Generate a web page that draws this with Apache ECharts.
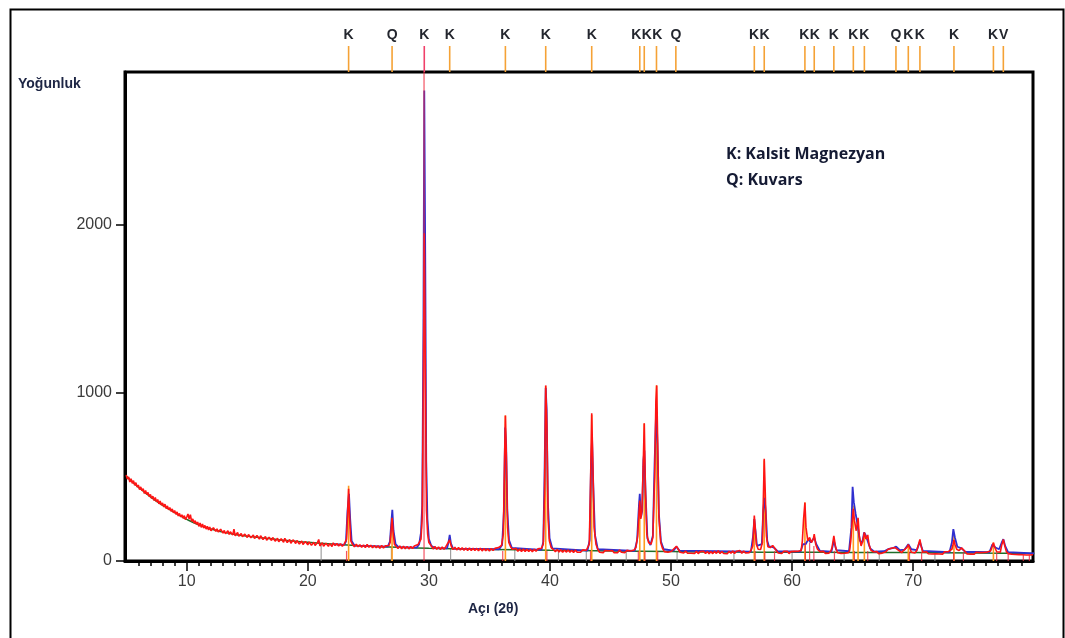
<!DOCTYPE html>
<html>
<head>
<meta charset="utf-8">
<script src="https://cdn.jsdelivr.net/npm/echarts@6/dist/echarts.min.js"></script>
<style>
html,body{margin:0;padding:0;background:#fff;}
#chart{width:1065px;height:638px;}
</style>
</head>
<body>
<div id="chart"></div>
<script>
// Axis ranges (2θ in degrees, intensity in counts)
const X_MIN = 4.9, X_MAX = 79.9, Y_MAX = 2910;
const xTickLabels = [10, 20, 30, 40, 50, 60, 70];
const yTickLabels = [0, 1000, 2000];

// Fitted background
const background = [[5,505],[6,440],[7,382],[8,332],[9,288],[10,248],[11,215],[12,190],[13,172],[14,158],[15,148],[16,140],[17,132],[18,124],[19,117],[20,111],[22,101],[24,92],[26,85],[28,80],[30,76],[32,73],[35,69],[40,64],[45,60],[50,56],[55,53],[60,52],[65,51],[70,50],[75,48],[80,45]];

// Measured scan
const measured = [
[5.0,512],[5.1,488],[5.2,500],[5.3,470],[5.4,490],[5.5,462],[5.6,478],[5.7,450],[5.8,466],[5.9,440],[6.0,452],[6.1,425],[6.2,441],[6.3,418],[6.4,430],[6.5,402],[6.6,420],[6.7,395],[6.8,408],[6.9,383],[7.0,396],[7.1,372],[7.2,386],[7.3,360],[7.4,378],[7.5,352],[7.6,366],[7.7,340],[7.8,357],[7.9,333],[8.0,345],[8.1,322],[8.2,338],[8.3,312],[8.4,328],[8.5,305],[8.6,318],[8.7,296],[8.8,310],[8.9,287],[9.0,300],[9.1,278],[9.2,292],[9.3,268],[9.4,283],[9.5,262],[9.6,275],[9.7,254],[9.8,270],[9.9,246],[10.0,262],[10.1,280],[10.2,250],[10.3,276],[10.4,236],[10.5,250],[10.6,226],[10.7,240],[10.8,218],[10.9,232],[11.0,206],[11.1,226],[11.2,200],[11.3,220],[11.4,196],[11.5,212],[11.6,190],[11.7,206],[11.8,185],[11.9,202],[12.0,180],[12.2,198],[12.4,176],[12.5,192],[12.6,172],[12.8,189],[13.0,166],[13.1,182],[13.2,162],[13.4,180],[13.5,158],[13.6,174],[13.8,155],[13.9,190],[14.0,150],[14.2,170],[14.3,148],[14.5,164],[14.6,145],[14.8,160],[15.0,140],[15.1,158],[15.3,138],[15.5,155],[15.6,134],[15.8,152],[16.0,130],[16.1,150],[16.3,128],[16.5,146],[16.6,124],[16.8,142],[17.0,122],[17.1,140],[17.3,118],[17.5,136],[17.6,115],[17.8,132],[18.0,112],[18.1,135],[18.3,110],[18.5,128],[18.6,106],[18.8,126],[19.0,104],[19.1,122],[19.3,101],[19.5,119],[19.6,98],[19.8,116],[20.0,96],[20.1,114],[20.3,94],[20.5,112],[20.6,92],[20.8,110],[20.9,128],[21.0,90],[21.2,108],[21.3,88],[21.5,106],[21.7,87],[21.8,104],[22.0,86],
[22.1,108],[22.25,92],[22.4,104],[22.55,89],[22.7,103],[22.85,88],[23.0,100],[23.2,130],[23.3,300],[23.37,430],[23.45,260],[23.55,120],[23.7,98],
[23.85,84],[24.0,100],[24.15,85],[24.3,97],[24.45,82],[24.6,96],[24.75,80],[24.9,98],[25.05,82],[25.2,94],[25.35,78],[25.5,93],[25.65,79],[25.8,91],[25.95,76],[26.1,92],[26.25,77],[26.4,90],[26.55,80],[26.7,92],
[26.8,110],[26.9,200],[26.96,257],[27.05,170],[27.15,100],[27.3,86],
[27.45,74],[27.6,90],[27.75,72],[27.9,88],[28.05,73],[28.2,87],[28.35,72],[28.5,86],[28.65,74],[28.8,90],[28.95,80],[29.1,98],[29.25,95],[29.35,130],
[29.45,260],[29.55,1100],[29.62,1950],[29.7,1200],[29.8,300],[29.9,160],[30.0,110],[30.2,90],
[30.35,72],[30.5,86],[30.65,70],[30.8,84],[30.95,68],[31.1,83],[31.25,70],[31.4,85],[31.55,88],[31.72,125],[31.85,88],
[32.0,68],[32.15,82],[32.3,66],[32.45,80],[32.6,65],[32.75,79],[32.9,64],[33.05,78],[33.2,63],[33.35,77],[33.5,62],[33.65,76],[33.8,63],[33.95,75],[34.1,61],[34.25,76],[34.4,60],[34.55,74],[34.7,61],[34.85,73],[35.0,60],[35.15,74],[35.3,62],[35.45,75],[35.6,64],[35.75,80],[35.9,78],[36.0,92],
[36.15,160],[36.25,600],[36.32,866],[36.4,620],[36.5,200],[36.6,110],[36.75,85],[36.9,70],
[37.05,60],[37.2,74],[37.35,58],[37.5,72],[37.65,57],[37.8,71],[37.95,56],[38.1,70],[38.25,57],[38.4,69],[38.55,55],[38.7,70],[38.85,58],[39.0,72],[39.15,62],[39.3,76],[39.45,100],
[39.55,400],[39.65,1045],[39.75,800],[39.85,250],[39.95,120],[40.1,80],[40.3,68],
[40.45,55],[40.6,68],[40.75,54],[40.9,67],[41.05,52],[41.2,66],[41.35,53],[41.5,65],[41.65,52],[41.8,64],[41.95,51],[42.1,65],[42.25,52],[42.4,63],[42.55,53],[42.7,66],[42.85,55],[43.0,64],[43.1,70],[43.25,100],
[43.35,450],[43.45,879],[43.55,560],[43.65,200],[43.8,100],[43.95,70],
[44.1,52],[44.25,63],[44.4,50],[44.55,62],[44.7,51],[44.85,61],[45.0,50],[45.15,62],[45.3,49],[45.45,60],[45.6,50],[45.75,66],[45.9,52],[46.05,62],[46.2,50],[46.35,63],[46.5,52],[46.65,60],[46.8,56],[46.95,66],[47.1,80],[47.25,150],
[47.35,280],[47.42,360],[47.5,250],[47.6,300],[47.7,560],[47.79,820],[47.88,450],[48.0,160],[48.15,110],[48.35,100],[48.5,140],[48.65,500],[48.75,950],[48.82,1045],[48.9,700],[49.0,260],[49.15,110],[49.3,75],
[49.45,56],[49.6,64],[49.75,52],[49.9,62],[50.05,58],[50.2,70],[50.35,78],[50.45,88],[50.6,70],[50.75,52],[50.9,60],
[51.05,48],[51.2,60],[51.35,47],[51.5,58],[51.65,46],[51.8,57],[51.95,45],[52.1,58],[52.25,44],[52.4,56],[52.55,45],[52.7,58],[52.85,44],[53.0,57],[53.15,43],[53.3,56],[53.45,44],[53.6,58],[53.75,45],[53.9,62],[54.05,44],[54.2,57],[54.35,45],[54.5,56],[54.65,43],[54.8,58],[54.95,46],[55.1,60],[55.25,45],[55.4,58],[55.55,47],[55.7,62],[55.85,46],[56.0,60],[56.15,48],[56.3,58],[56.45,50],[56.6,62],[56.75,90],
[56.82,180],[56.88,270],[56.95,200],[57.05,100],[57.2,70],[57.4,68],[57.55,110],
[57.62,350],[57.7,609],[57.78,420],[57.88,150],[58.0,85],[58.2,80],
[58.4,92],[58.55,88],[58.7,62],[58.85,48],[59.0,58],[59.15,45],[59.3,57],[59.45,46],[59.6,58],[59.75,44],[59.9,56],[60.05,45],[60.2,57],[60.35,46],[60.5,58],[60.65,50],[60.75,62],[60.85,120],
[60.95,250],[61.06,348],[61.15,200],[61.3,120],[61.45,140],[61.6,110],[61.75,130],[61.83,160],[61.95,100],[62.1,70],[62.3,56],
[62.45,46],[62.6,57],[62.75,45],[62.9,56],[63.05,47],[63.2,60],[63.3,80],[63.45,150],[63.6,80],[63.75,50],
[63.9,57],[64.05,45],[64.2,56],[64.35,46],[64.5,57],[64.65,50],[64.75,62],[64.85,120],
[64.95,220],[65.06,310],[65.15,240],[65.3,180],[65.45,257],[65.55,150],[65.7,90],[65.85,120],[65.97,170],[66.1,130],[66.25,155],[66.35,100],[66.5,65],[66.7,55],
[66.85,46],[67.0,56],[67.15,44],[67.3,55],[67.45,47],[67.6,58],[67.75,55],[67.9,68],[68.05,62],[68.2,76],[68.35,66],[68.5,80],[68.6,84],[68.75,66],[68.9,58],[69.05,50],[69.2,62],[69.35,60],[69.5,82],[69.6,98],[69.7,80],[69.85,52],[70.0,58],[70.15,48],[70.3,62],[70.45,100],[70.56,128],[70.65,90],[70.8,52],
[70.95,44],[71.1,55],[71.25,43],[71.4,54],[71.55,42],[71.7,53],[71.85,43],[72.0,54],[72.15,42],[72.3,53],[72.45,41],[72.6,55],[72.75,44],[72.9,56],[73.05,50],[73.2,70],
[73.3,100],[73.37,125],[73.45,100],[73.6,70],[73.8,62],[74.0,78],[74.15,70],[74.3,55],
[74.45,42],[74.6,52],[74.75,41],[74.9,51],[75.05,40],[75.2,52],[75.35,41],[75.5,50],[75.65,40],[75.8,51],[75.95,42],[76.1,53],[76.25,48],[76.4,60],[76.5,80],[76.63,108],[76.75,80],[76.9,55],[77.05,60],[77.2,52],[77.3,90],[77.45,128],[77.55,95],[77.7,56],[77.85,44],
[78.0,52],[78.15,40],[78.3,50],[78.45,39],[78.6,49],[78.75,38],[78.9,48],[79.05,37],[79.2,47],[79.35,36],[79.5,46],[79.65,36],[79.8,45],[79.9,38]
];

// Calculated profile
const profile = [
[22,101],[23.0,96],[23.15,115],[23.28,300],[23.4,400],[23.5,250],[23.62,120],[23.85,92],
[26.6,85],[26.78,115],[26.9,230],[26.98,304],[27.08,180],[27.25,100],[27.5,82],
[29.0,80],[29.2,100],[29.35,170],[29.45,330],[29.55,1400],[29.62,2800],[29.7,1800],[29.78,600],[29.88,250],[30.0,130],[30.2,90],[30.5,77],
[31.5,75],[31.62,110],[31.72,155],[31.82,105],[32.0,74],
[35.8,70],[36.05,95],[36.2,300],[36.3,794],[36.38,700],[36.48,300],[36.62,125],[36.85,78],
[39.3,66],[39.45,115],[39.55,500],[39.65,1030],[39.73,900],[39.83,350],[39.97,135],[40.2,75],
[43.1,62],[43.28,125],[43.4,600],[43.48,728],[43.58,450],[43.72,155],[43.95,70],
[47.0,60],[47.2,125],[47.35,330],[47.42,400],[47.52,260],[47.62,300],[47.72,600],[47.8,657],[47.9,400],[48.05,135],[48.3,95],[48.5,150],[48.65,600],[48.78,913],[48.88,700],[49.0,280],[49.17,115],[49.4,70],
[50.2,62],[50.45,85],[50.7,62],
[56.6,56],[56.78,150],[56.88,250],[56.98,180],[57.1,90],[57.5,100],[57.62,300],[57.72,376],[57.82,300],[57.95,120],[58.1,85],[58.3,85],[58.5,80],[58.8,58],
[60.7,56],[60.9,100],[61.02,110],[61.12,100],[61.35,130],[61.55,110],[61.83,140],[62.0,100],[62.3,60],
[63.25,56],[63.45,120],[63.65,65],
[64.7,58],[64.9,200],[65.0,442],[65.1,350],[65.25,280],[65.4,220],[65.6,120],[65.8,110],[65.95,170],[66.1,150],[66.25,140],[66.45,75],[66.8,55],
[67.6,58],[68.0,72],[68.4,78],[68.6,86],[68.9,65],[69.3,68],[69.6,100],[69.85,70],[70.3,65],[70.56,115],[70.8,60],
[73.0,52],[73.2,110],[73.32,190],[73.45,140],[73.65,85],[74.0,75],[74.3,55],
[76.3,52],[76.55,100],[76.65,110],[76.8,80],[77.1,70],[77.35,115],[77.45,130],[77.6,90],[77.85,52],[80,45]
];

// Peak positions with intensities (second pattern)
const peakSticks = [[23.37,448],[26.96,240],[36.32,866],[39.65,1040],[43.45,870],[47.42,330],[47.79,818],[48.80,1045],[56.88,250],[57.70,600],[61.06,348],[65.06,330],[65.45,250],[65.97,160],[69.60,95],[73.37,150],[76.63,110]];

// Reference reflections (calcite card)
const refSticks = [[23.2,60],[29.6,3000],[36.1,60],[39.75,60],[43.35,60],[47.3,60],[47.85,60],[48.9,60],[56.95,60],[57.75,60],[58.55,60],[61.1,110],[61.45,110],[61.8,90],[63.5,60],[65.15,60],[66.25,60],[69.7,55],[70.7,55],[73.35,55],[74.15,50],[76.9,50],[77.85,50],[79.1,40],[79.6,40]];

// Other reference lines
const minorSticks = [[21.1,100],[26.9,85],[31.8,75],[37.1,68],[40.7,62],[43.0,60],[46.3,57],[50.5,56],[55.2,52],[60.0,52],[64.3,51],[67.2,50],[71.8,49]];

// Phase identification marks shown above the plot
const phaseMarks = [[23.37,'K'],[26.96,'Q'],[29.62,'K'],[31.72,'K'],[36.32,'K'],[39.65,'K'],[43.45,'K'],[47.42,'K'],[47.79,'K'],[48.80,'K'],[50.40,'Q'],[56.88,'K'],[57.70,'K'],[61.06,'K'],[61.83,'K'],[63.45,'K'],[65.06,'K'],[65.97,'K'],[68.58,'Q'],[69.60,'K'],[70.56,'K'],[73.37,'K'],[76.63,'K'],[77.45,'V']];

const minorTicks = [];
for (let v = 6; v <= 79; v++) minorTicks.push(v);

const TEXT_FONT = '"Liberation Sans", Arial, sans-serif';

function spreadLabels(xs, gap) {
  const out = xs.slice();
  for (let it = 0; it < 30; it++) {
    for (let k = 1; k < out.length; k++) {
      const d = out[k] - out[k - 1];
      if (d < gap) { const s = (gap - d) / 2; out[k - 1] -= s; out[k] += s; }
    }
  }
  return out;
}

function stickRenderer(color, width) {
  return function (params, api) {
    const x = api.value(0), h = api.value(1);
    const p0 = api.coord([x, 0]);
    const p1 = api.coord([x, h]);
    return {
      type: 'line',
      shape: { x1: p0[0], y1: p0[1], x2: p1[0], y2: p1[1] },
      style: { stroke: color, lineWidth: width }
    };
  };
}

function markRenderer(params, api) {
  const i = params.dataIndex;
  const xs = phaseMarks.map(m => api.coord([m[0], 0])[0]);
  const lx = spreadLabels(xs, 10.5);
  const x = api.value(0);
  const p0 = api.coord([x, 0]);
  const p1 = api.coord([x, 1]);
  const strong = refSticks.some(s => s[1] >= Y_MAX && Math.abs(s[0] - x) < 0.1);
  return {
    type: 'group',
    children: [
      { type: 'line', shape: { x1: p0[0], y1: p0[1], x2: p1[0], y2: p1[1] },
        style: { stroke: strong ? '#f0406a' : '#f5a236', lineWidth: 1.6 } },
      { type: 'text', x: lx[i], y: p1[1] - 4,
        style: { text: phaseMarks[i][1], font: 'bold 14px ' + TEXT_FONT, fill: '#23262e',
                 align: 'center', verticalAlign: 'bottom' } }
    ]
  };
}

const chart = echarts.init(document.getElementById('chart'), null, { renderer: 'canvas' });

const option = {
  animation: false,
  backgroundColor: '#ffffff',
  grid: [
    { left: 125, right: 32, top: 72, bottom: 77, show: true, borderColor: '#000', borderWidth: 3, backgroundColor: 'transparent' },
    { left: 125, right: 32, top: 46, height: 26 }
  ],
  xAxis: [
    { type: 'value', gridIndex: 0, min: X_MIN, max: X_MAX, position: 'bottom',
      axisLine: { show: true, onZero: false, lineStyle: { color: '#000', width: 3 } },
      axisTick: { show: true, customValues: minorTicks, length: 5, lineStyle: { color: '#000', width: 1.5 } },
      axisLabel: { customValues: xTickLabels, color: '#3b3b3b', fontSize: 16, fontFamily: TEXT_FONT, margin: 13,
                   formatter: v => String(v) },
      splitLine: { show: false } },
    { type: 'value', gridIndex: 0, min: X_MIN, max: X_MAX, position: 'bottom',
      axisLine: { show: false },
      axisTick: { show: true, customValues: xTickLabels, length: 10, lineStyle: { color: '#000', width: 1.5 } },
      axisLabel: { show: false }, splitLine: { show: false } },
    { type: 'value', gridIndex: 1, min: X_MIN, max: X_MAX, show: false }
  ],
  yAxis: [
    { type: 'value', gridIndex: 0, min: 0, max: Y_MAX,
      axisLine: { show: true, lineStyle: { color: '#000', width: 3 } },
      axisTick: { show: true, customValues: yTickLabels, length: 9, lineStyle: { color: '#000', width: 1.5 } },
      axisLabel: { customValues: yTickLabels, color: '#3b3b3b', fontSize: 16, fontFamily: TEXT_FONT, margin: 13,
                   formatter: v => String(v) },
      splitLine: { show: false } },
    { type: 'value', gridIndex: 1, min: 0, max: 1, show: false }
  ],
  series: [
    { type: 'custom', name: 'minor', xAxisIndex: 0, yAxisIndex: 0, clip: true, z: 1,
      renderItem: stickRenderer('#8e8e8e', 1), data: minorSticks },
    { type: 'custom', name: 'reference', xAxisIndex: 0, yAxisIndex: 0, clip: true, z: 6,
      renderItem: stickRenderer('rgba(240,40,60,0.8)', 1.2), data: refSticks },
    { type: 'line', name: 'background', xAxisIndex: 0, yAxisIndex: 0, data: background, smooth: true,
      showSymbol: false, z: 2, lineStyle: { color: '#1f6e2a', width: 1.5 } },
    { type: 'line', name: 'profile', xAxisIndex: 0, yAxisIndex: 0, data: profile,
      showSymbol: false, z: 3, lineStyle: { color: '#2f2fcf', width: 1.8 } },
    { type: 'custom', name: 'peaks', xAxisIndex: 0, yAxisIndex: 0, clip: true, z: 3,
      renderItem: stickRenderer('#ff9b1e', 1.6), data: peakSticks },
    { type: 'line', name: 'measured', xAxisIndex: 0, yAxisIndex: 0, data: measured,
      showSymbol: false, z: 4, lineStyle: { color: '#ff1414', width: 1.6 } },
    { type: 'custom', name: 'phases', xAxisIndex: 2, yAxisIndex: 1, clip: false, z: 7,
      renderItem: markRenderer, data: phaseMarks.map(m => [m[0], 1]) }
  ],
  graphic: [
    { type: 'rect', left: 8, top: 7, shape: { x: 0, y: 0, width: 1053, height: 700 },
      style: { fill: 'none', stroke: '#000', lineWidth: 2 }, silent: true },
    { type: 'text', left: 18, top: 77,
      style: { text: 'Yoğunluk', font: 'bold 14px ' + TEXT_FONT, fill: '#1d2544' } },
    { type: 'text', left: 468, top: 602,
      style: { text: 'Açı (2θ)', font: 'bold 14px ' + TEXT_FONT, fill: '#1d2544' } },
    { type: 'text', left: 726, top: 141,
      style: { text: 'K: Kalsit Magnezyan\nQ: Kuvars', font: 'bold 16px "Open Sans", sans-serif',
               fill: '#141a33', lineHeight: 26 } }
  ]
};

chart.setOption(option);
</script>
</body>
</html>
